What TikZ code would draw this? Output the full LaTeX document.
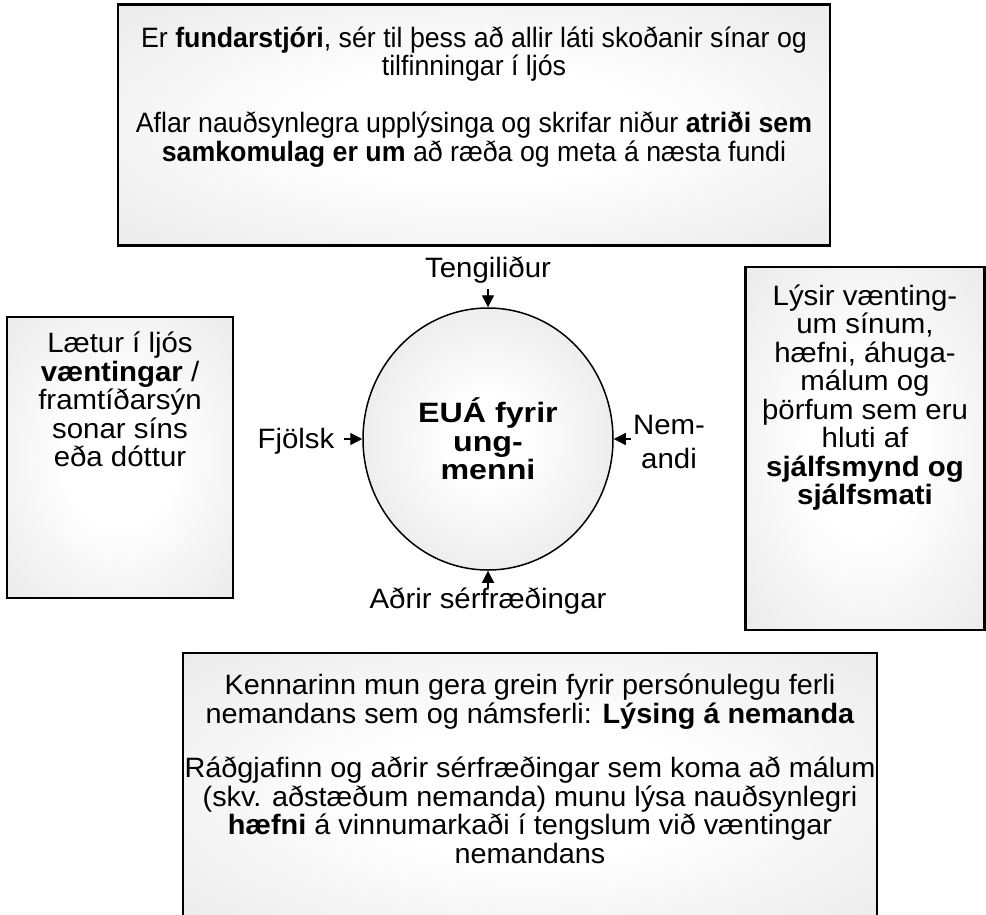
\documentclass[tikz,border=0pt]{standalone}
\usepackage{fontspec}
\setmainfont[FakeStretch=1.05]{Liberation Sans}
\newfontfamily\topfont[FakeStretch=0.955]{Liberation Sans}
\newfontfamily\botfont[FakeStretch=1.03]{Liberation Sans}
\newfontfamily\circfont[FakeStretch=1.15]{Liberation Sans}
\usetikzlibrary{shapes.geometric,arrows.meta}
\definecolor{boxgray}{RGB}{222,222,222}
\definecolor{circgray}{RGB}{212,212,212}
\pgfdeclareradialshading{boxshade}{\pgfpoint{0bp}{0bp}}{color(0bp)=(white); color(12bp)=(white); color(50bp)=(boxgray); color(100bp)=(boxgray)}
\pgfdeclareradialshading{circshade}{\pgfpoint{0bp}{0bp}}{color(0bp)=(white); color(8bp)=(white); color(50bp)=(circgray); color(100bp)=(circgray)}
\begin{document}
\begin{tikzpicture}[x=1pt,y=-1pt,
  box/.style={draw=black, line width=2.4pt, rectangle, inner sep=0pt, shading=boxshade},
  txt/.style={align=center, inner sep=0pt,
    font=\fontsize{28pt}{28.5pt}\selectfont},
  lbl/.style={align=center, inner sep=1pt,
    font=\fontsize{28pt}{34pt}\selectfont},
  arr/.style={-{Triangle[length=12pt,width=12pt]}, line width=1.4pt}]
\useasboundingbox (0,0) rectangle (986,914);
\clip (0,0) rectangle (986,914);

% boxes
\node[box, minimum width=712pt, minimum height=241pt] (topbox) at (474,125) {};
\node[box, minimum width=226pt, minimum height=281pt] (leftbox) at (120,457.5) {};
\node[box, minimum width=239pt, minimum height=363pt] (rightbox) at (865,448.5) {};
\node[box, minimum width=694pt, minimum height=277pt] (botbox) at (530,791.5) {};

% box texts
\node[txt, font=\topfont\fontsize{28pt}{28.5pt}\selectfont] (toptext) at (474,97)
  {Er \textbf{fundarstjóri}, sér til þess að allir láti skoðanir sínar og\\
   tilfinningar í ljós\\[28.5pt]
   Aflar nauðsynlegra upplýsinga og skrifar niður \textbf{atriði sem}\\
   \textbf{samkomulag er um} að ræða og meta á næsta fundi};
\node[txt] (lefttext) at (120,399.5)
  {Lætur í ljós\\ \textbf{væntingar} /\\ framtíðarsýn\\ sonar síns\\ eða dóttur};
\node[txt] (righttext) at (865,397.5)
  {Lýsir vænting-\\um sínum,\\hæfni, áhuga-\\málum og\\þörfum sem eru\\hluti af\\
   \textbf{sjálfsmynd og}\\\textbf{sjálfsmati}};
\node[txt, font=\botfont\fontsize{28pt}{28.5pt}\selectfont] (bottext) at (530,769)
  {Kennarinn mun gera grein fyrir persónulegu ferli\\
   nemandans sem og námsferli: \textbf{Lýsing á nemanda}\\[26pt]
   Ráðgjafinn og aðrir sérfræðingar sem koma að málum\\
   (skv. aðstæðum nemanda) munu lýsa nauðsynlegri\\
   \textbf{hæfni} á vinnumarkaði í tengslum við væntingar\\
   nemandans};

% centre circle
\node[ellipse, draw=black, line width=1.5pt, minimum width=250pt, minimum height=262pt,
  shading=circshade, inner sep=0pt, align=center,
  font=\circfont\bfseries\fontsize{28pt}{28.5pt}\selectfont] (circ) at (488,439)
  {EUÁ fyrir\\ung-\\menni};

% labels
\node[lbl] (lt) at (488,270) {Tengiliður};
\node[lbl] (lf) at (296,441) {Fjölsk};
\node[lbl] (ln) at (669,442) {Nem-\\andi};
\node[lbl] (la) at (488,601) {Aðrir sérfræðingar};

% arrows
\coordinate (at) at (488,289);
\coordinate (af) at (344,439);
\coordinate (an) at (631,439);
\coordinate (ab) at (488,588);
\draw[arr] (at) -- (circ.north);
\draw[arr] (af) -- (circ.west);
\draw[arr] (an) -- (circ.east);
\draw[arr] (ab) -- (circ.south);
\end{tikzpicture}
\end{document}
